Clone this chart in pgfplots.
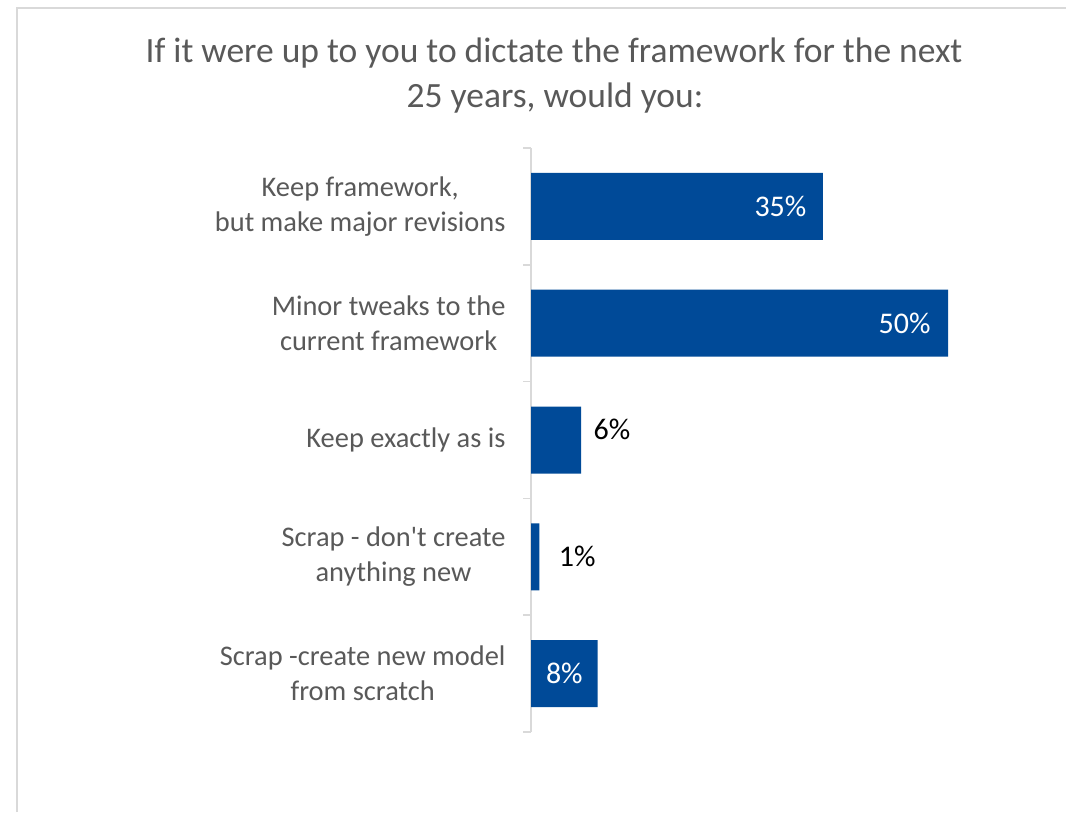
\documentclass[border=0pt]{standalone}
\usepackage{pgfplots}
\pgfplotsset{compat=1.18}
\usepackage{fontspec}
\setmainfont{Carlito}
\definecolor{barblue}{HTML}{004A98}
\definecolor{txtgray}{HTML}{595959}
\definecolor{axgray}{HTML}{D9D9D9}
\begin{document}
\begin{tikzpicture}
\useasboundingbox (0,0) rectangle (1066pt,-812pt);
\fill[white] (0,0) rectangle (1066pt,-812pt);
\draw[axgray, line width=2pt] (17pt,-812pt) -- (17pt,-8pt) -- (1066pt,-8pt);
\node[anchor=base, text=txtgray, font=\fontsize{35.5}{42}\selectfont, inner sep=0pt] at (554pt,-62pt) {If it were up to you to dictate the framework for the next};
\node[anchor=base, text=txtgray, font=\fontsize{35.5}{42}\selectfont, inner sep=0pt] at (555pt,-107pt) {25 years, would you:};
\begin{axis}[
  at={(531pt,-732pt)}, anchor=south west,
  scale only axis, width=500.4pt, height=584pt,
  xbar, bar width=67pt, bar shift=0pt,
  xmin=0, xmax=60, ymin=-0.5, ymax=4.5, y dir=reverse,
  axis x line=none, axis y line*=left,
  y axis line style={axgray, line width=1.5pt, -},
  ytick={0,1,2,3,4},
  yticklabels={{Keep framework,\\but make major revisions},{Minor tweaks to the\\current framework},{Keep exactly as is},{Scrap - don\textquotesingle t create\\anything new},{Scrap -create new model\\from scratch}},
  major tick length=0pt,
  minor ytick={-0.5,0.5,...,4.5}, minor tick length=8pt, tick align=outside,
  minor tick style={axgray, line width=1.5pt},
  yticklabel style={align=center, text=txtgray, font=\fontsize{28.4}{35}\selectfont, xshift=-22pt},
  clip=false,
]
\addplot[fill=barblue, draw=none] coordinates {(35,0) (50,1) (6,2) (1,3) (8,4)};
\node[anchor=east, text=white, font=\fontsize{30}{34}\selectfont, xshift=-13pt] at (axis cs:35,0) {35\%};
\node[anchor=east, text=white, font=\fontsize{30}{34}\selectfont, xshift=-14pt] at (axis cs:50,1) {50\%};
\node[anchor=west, text=black, font=\fontsize{30}{34}\selectfont, xshift=9pt, yshift=11pt] at (axis cs:6,2) {6\%};
\node[anchor=west, text=black, font=\fontsize{30}{34}\selectfont, xshift=16pt] at (axis cs:1,3) {1\%};
\node[anchor=center, text=white, font=\fontsize{30}{34}\selectfont] at (axis cs:4,4) {8\%};
\end{axis}
\end{tikzpicture}
\end{document}
